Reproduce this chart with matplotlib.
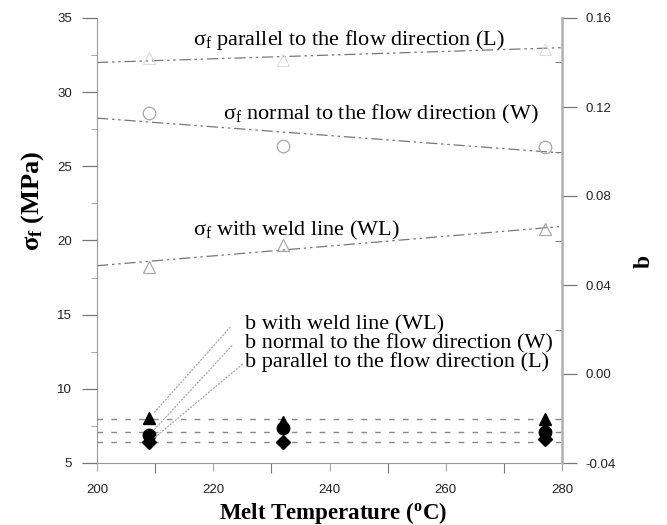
import matplotlib
matplotlib.use("Agg")
import matplotlib.pyplot as plt

plt.rcParams["font.family"] = "Liberation Serif"
plt.rcParams["mathtext.fontset"] = "custom"
plt.rcParams["mathtext.rm"] = "Liberation Serif"
plt.rcParams["mathtext.it"] = "Liberation Serif:italic"
plt.rcParams["mathtext.bf"] = "Liberation Serif:bold"

# melt temperatures of the measured points
temps = [209, 232, 277]

# flexural strength (left axis, MPa)
sigma_L = [32.3, 32.2, 32.9]
sigma_W = [28.6, 26.4, 26.3]
sigma_WL = [18.2, 19.7, 20.8]

# regression lines for sigma_f (endpoints at axis limits)
fit_temps = [200, 280]
fit_sigma_L = [32.0, 33.0]
fit_sigma_W = [28.25, 25.9]
fit_sigma_WL = [18.3, 20.95]

# b coefficient (right axis)
b_WL = [-0.0198, -0.0215, -0.0200]
b_W = [-0.0274, -0.0243, -0.0261]
b_L = [-0.0306, -0.0306, -0.0292]

# horizontal fits of b
fit_b_WL = [-0.0201, -0.0201]
fit_b_W = [-0.0262, -0.0262]
fit_b_L = [-0.0305, -0.0305]

left_ticks = [5, 10, 15, 20, 25, 30, 35]
right_ticks = [-0.04, 0.00, 0.04, 0.08, 0.12, 0.16]
x_ticks = [200, 220, 240, 260, 280]

GRAY = "#777777"
LIGHT = "#a8a8a8"

fig = plt.figure(figsize=(6.67, 5.25), dpi=100)
ax = fig.add_axes([97 / 667, 1 - 463 / 525, 465 / 667, 445 / 525])
ax2 = ax.twinx()

ax.set_xlim(200, 280)
ax.set_ylim(5, 35)
ax2.set_ylim(-0.04, 0.16)

fit_style = dict(color=GRAY, linewidth=0.9, linestyle=(0, (9, 3, 2, 3, 2, 3)))
ax.plot(fit_temps, fit_sigma_L, **fit_style)
ax.plot(fit_temps, fit_sigma_W, **fit_style)
ax.plot(fit_temps, fit_sigma_WL, **fit_style)

ax.plot(temps, sigma_L, linestyle="none", marker="^", markersize=8,
        markerfacecolor="none", markeredgecolor="#dddddd", markeredgewidth=0.8)
ax.plot(temps, sigma_W, linestyle="none", marker="o", markersize=9,
        markerfacecolor="none", markeredgecolor=LIGHT, markeredgewidth=0.9)
ax.plot(temps, sigma_WL, linestyle="none", marker="^", markersize=9,
        markerfacecolor="none", markeredgecolor=LIGHT, markeredgewidth=0.9)

b_style = dict(color="#888888", linewidth=1.0, linestyle=(0, (4, 6)))
ax2.plot(fit_temps, fit_b_WL, **b_style)
ax2.plot(fit_temps, fit_b_W, **b_style)
ax2.plot(fit_temps, fit_b_L, **b_style)

ax2.plot(temps, b_WL, linestyle="none", marker="^", markersize=9, color="black")
ax2.plot(temps, b_W, linestyle="none", marker="o", markersize=9, color="black")
ax2.plot(temps, b_L, linestyle="none", marker="D", markersize=7.5, color="black")

text_size = 16
ax.text(216.5, 33.5, r"σ$_\mathrm{f}$ parallel to the flow direction (L)",
        fontsize=text_size, va="center", ha="left")
ax.text(221.7, 28.5, r"σ$_\mathrm{f}$ normal to the flow direction (W)",
        fontsize=text_size, va="center", ha="left")
ax.text(216.5, 20.7, r"σ$_\mathrm{f}$ with weld line (WL)",
        fontsize=text_size, va="center", ha="left")

b_labels = [
    ("b with weld line (WL)", 14.3, b_WL[0]),
    ("b normal to the flow direction (W)", 13.05, b_W[0]),
    ("b parallel to the flow direction (L)", 11.8, b_L[0]),
]
leader_x = [222.9, 223.2, 225.0]
for (label, y_text, b_val), lx in zip(b_labels, leader_x):
    ax.text(225.5, y_text, label, fontsize=text_size, va="center", ha="left")
    ax2.annotate(
        "", xy=(temps[0], b_val), xytext=(lx, -0.04 + (y_text - 5) * 0.2 / 30 - 0.001),
        arrowprops=dict(arrowstyle="-", color=LIGHT, linestyle=":", linewidth=0.9,
                        shrinkA=0, shrinkB=5),
    )

ax.set_xticks(x_ticks)
ax.set_xticks([210, 230, 250, 270], minor=True)
ax.set_yticks(left_ticks)
ax.set_yticks([7.5, 12.5, 17.5, 22.5, 27.5, 32.5], minor=True)
ax2.set_yticks(right_ticks)
ax2.set_yticks([-0.02, 0.02, 0.06, 0.10, 0.14], minor=True)
ax2.set_yticklabels([f"{v:.2f}" for v in right_ticks])

for lab in ax.get_xticklabels() + ax.get_yticklabels() + ax2.get_yticklabels():
    lab.set_fontfamily("Liberation Sans")
    lab.set_fontsize(9.5)
    lab.set_color("#222222")

ax.tick_params(axis="y", which="major", direction="out", length=11, width=0.9,
               color=GRAY, pad=7)
ax.tick_params(axis="y", which="minor", direction="out", length=4, width=0.7,
               color=LIGHT)
ax.tick_params(axis="x", which="major", direction="out", length=6, width=0.8,
               color=LIGHT, pad=9)
ax.tick_params(axis="x", which="minor", direction="out", length=7, width=0.8,
               color=GRAY)
ax2.tick_params(axis="y", which="major", direction="out", length=11, width=0.9,
                color=GRAY, pad=6)
ax2.tick_params(axis="y", which="minor", direction="in", length=5, width=0.7,
                color=GRAY)

ax.spines["top"].set_visible(False)
ax2.spines["top"].set_visible(False)
ax.spines["left"].set_color("#999999")
ax.spines["bottom"].set_color("#999999")
ax2.spines["left"].set_visible(False)
ax2.spines["bottom"].set_visible(False)
ax2.spines["right"].set_color("#b0b0b0")
ax2.spines["right"].set_linewidth(1.8)
ax.spines["right"].set_visible(False)

ax.set_ylabel(r"σ$_\mathbf{f}$ (MPa)", fontsize=19, fontweight="bold")
ax.yaxis.set_label_coords(-0.11, 0.59)
ax.set_xlabel(r"Melt Temperature ($^{\mathbf{o}}$C)", fontsize=16.5, fontweight="bold")
ax.xaxis.set_label_coords(0.507, -0.083)
ax2.set_ylabel("b", fontsize=17, fontweight="bold")
ax2.yaxis.set_label_coords(1.155, 0.452)

fig.savefig("out.png", dpi=100)
